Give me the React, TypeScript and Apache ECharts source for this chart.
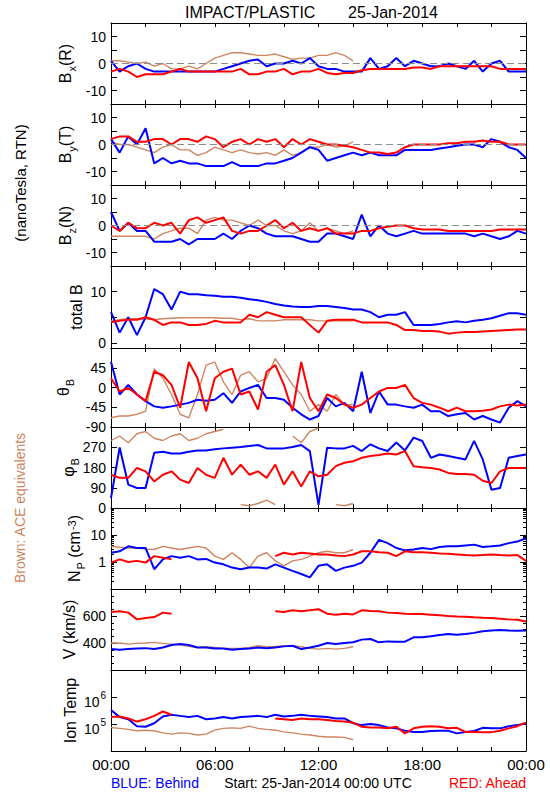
import React, { useEffect, useRef } from 'react';
import * as echarts from 'echarts';

const FONT = '"Liberation Sans", Arial, Helvetica, sans-serif';
const BLUE = '#0000ff';
const RED = '#ff0000';
const BROWN = '#cd8562';
const GRAY = '#8c8c8c';

// sample times, hours after 25-Jan-2014 00:00 UTC (every 30 min)
const HOURS = Array.from({ length: 49 }, (_, i) => i * 0.5);
const TIME_TICK_LABELS = ['00:00', '06:00', '12:00', '18:00', '00:00'];

// ---- Bx (R), nT
const BX_BLUE = [1, -3, -1, 0, -2, -3, -3, -3, -3, -3, -3, -3, -3, -2, -1, 0, 1, 1.5, -1, 0, 0, 1, 0, 2, -1, -2, -2, -3, -3, -3, 2, -2, -1, 2, -1, 1, 0, -1, -1, 0, -1, -2, 1, -3, 0, 1, -3, -3, -3];
const BX_RED = [-3, -2, -3, -5, -4, -4, -4, -3, -2, -3, -3, -3, -3, -3, -3, -2, -4, -4, -3, -3, -2, -4, -3, -3, -2, -3.5, -4, -3.5, -3.5, -2.5, -2, -2, -2, -2, -2, -1.5, -1.5, -2, -1, -1, -1, -1, -1, -1, -1, -2, -2, -2, -2];
const BX_BROWN = [1, 1, 0.5, 0, 0.5, -1, 0, -2, -2, -1, -2, 0, 2, 3, 4, 4, 3.5, 3, 3, 3.5, 2.5, 1.5, 2, 2, 3, 3, 4, 3, 1, null, null, null, null, null, null, null, null, null, null, null, null, null, null, null, null, null, null, null, null];

// ---- By (T), nT
const BY_BLUE = [2, -3, 3, 0, 6, -7, -5, -7, -6, -7, -7, -8, -8, -8, -6.5, -8, -8, -8, -7, -7, -6, -5, -3, -1, -2, -6, -5, -4, -3, -4, -3, -4, -4, -4, -2, -2, -2, -2, -1.5, -1, -0.5, 0, 0, -1, 2, 1, -1, -2, -5];
const BY_RED = [2, 3, 3, 1, 1, 2, 2, 0, 2, 2, 1, 3, 2, -1, 1, 2, 0, 2, 1, 2, -1, 2, 0, 2, 1, 0, 0, -0.5, -1, -2, -3, -3, -3.5, -3, -1, 0, 0, 0, 0, 0.5, 0.5, 1, 1, 1.5, 1, 1, 0, 0, 0];
const BY_BROWN = [1, 0, 0, -1, -2, -3, -1, 0, -2, -2, -4, -3, -1, -2, -3, -2, -3, -3.5, -3, -4, -2, -4, -3, -1, -1, 0, -1, -0.5, 1, null, null, null, null, null, null, null, null, null, null, null, null, null, null, null, null, null, null, null, null];

// ---- Bz (N), nT
const BZ_BLUE = [5, -2, 1, -2, -2, -6, -6, -6, -5, -7, -5, -5, -5, -3, -5, -2, 0, -1, -3, -4, -4, -4, -5, -6, -6, -3, -3, -4, -5, 4, -4, 0, -3, -4, -3, -2, -3, -3, -3, -3, -3, -3, -4, -3, -4, -5, -4, -2, -3];
const BZ_RED = [0, -2, 1, -1, -1, 1, 0, 1, -3, 2, 3, 1, 2, 3, -2, -3, -2, -2, 0, 2, -1, 1, -2, -1, -2, -1, -3, -3, -3, -2, -2, -1, -0.5, 0, 0, -1, -1.5, -1.5, -1.5, -2, -2, -2, -2, -2, -2, -1.5, -1.5, -1.5, -1.5];
const BZ_BROWN = [-4, -4, -4, -4, -4, -5, -3, -2, -1, -1, -3, 2, 3, 2, 2, 1, 0, 2, 0, 0, -2, -3, -2, 1, -2, -1, -2, -3, -2, null, null, null, null, null, null, null, null, null, null, null, null, null, null, null, null, null, null, null, null];

// ---- total B, nT
const BT_BLUE = [6, 2, 5, 1.5, 5, 10.5, 9.5, 6.5, 10, 9.5, 9.5, 9.3, 9.2, 9, 9, 8.8, 8.5, 8.3, 8, 7.6, 7.3, 7.1, 7, 7, 7.2, 7.2, 7, 6.8, 6.5, 6.5, 6, 5, 5.5, 5.5, 6, 3.5, 3.5, 3.5, 3.7, 4, 4.2, 4, 4.3, 4.5, 4.8, 5.3, 5.8, 5.8, 5.5];
const BT_RED = [4, 4.3, 4.5, 4.5, 5, 4.5, 3.5, 4, 4, 3.5, 3.5, 3.7, 4.3, 4, 4, 4, 5.5, 5, 6, 5.5, 5, 5, 5, 3.5, 2, 4.3, 4.5, 4.5, 4.5, 4, 4, 4, 4, 3.5, 2.5, 2.5, 2.3, 2.3, 2.2, 1.8, 2, 2.1, 2.1, 2.2, 2.3, 2.4, 2.5, 2.6, 2.6];
const BT_BROWN = [4.3, 4.5, 4.7, 4.7, 4.7, 4.5, 4.7, 4.8, 4.9, 4.9, 4.9, 4.9, 4.9, 4.8, 4.8, 4.5, 4.7, 4.3, 4.3, 4.3, 4.5, 4.5, 4.5, 4.5, 4.3, 4.3, 4.3, 4.3, 4.3, null, null, null, null, null, null, null, null, null, null, null, null, null, null, null, null, null, null, null, null];

// ---- theta B, degrees
const TH_BLUE = [58, -16, 6, -16, -31, -43, -46, -43, -39, -35, -28, -30, -28, -13, -35, -9, -1, 6, -24, -24, -28, -46, -61, -73, -65, -24, -43, -35, -54, 36, -58, -9, -39, -39, -43, -46, -39, -54, -54, -65, -61, -58, -73, -65, -73, -80, -46, -31, -43];
const TH_RED = [21, -9, -1, -16, -31, 36, 28, 6, -46, 58, 21, -54, 21, 36, 43, -16, -9, -50, 36, 51, 6, -54, 58, -24, -54, -16, -24, -39, -46, -39, -24, -9, -1, -1, 6, -24, -35, -39, -46, -54, -46, -54, -54, -53, -50, -43, -39, -41, -39];
const TH_BROWN = [-69, -65, -65, -61, -54, 43, 21, -16, -61, -69, -16, 51, 58, 13, -16, 28, 36, 13, 21, 66, 36, 6, -16, -54, -39, -54, -16, -39, -39, null, null, null, null, null, null, null, null, null, null, null, null, null, null, null, null, null, null, null, null];

// ---- phi B, degrees
const PH_BLUE = [44, 269, 104, 89, 89, 246, 250, 242, 242, 250, 256, 256, 261, 265, 268, 271, 276, 280, 265, 265, 265, 271, 280, 253, 13, 268, 265, 265, 276, 253, 283, 265, 253, 291, 256, 313, 298, 223, 238, 231, 223, 216, 298, 216, 81, 89, 223, 231, 238];
const PH_RED = [148, 134, 134, 178, 163, 118, 148, 163, 126, 111, 178, 148, 134, 223, 148, 193, 148, 163, 134, 193, 104, 163, 96, 163, 141, 148, 186, 201, 208, 223, 231, 236, 242, 238, 253, 186, 181, 178, 171, 156, 151, 151, 148, 121, 111, 163, 178, 178, 178];
const PH_BROWN = [300, 320, 290, 330, 340, 310, 300, 320, 330, 300, 310, 330, 340, 350, null, 15, 10, 20, 35, 15, null, 320, 290, 340, 355, null, 15, 10, 20, null, null, null, null, null, null, null, null, null, null, null, null, null, null, null, null, null, null, null, null];

// ---- proton density, cm^-3
const NP_BLUE = [2.2, 2.5, 3.8, 3.3, 3.3, 0.54, 1.25, 1.65, 1.45, 1.65, 1.25, 1.3, 0.95, 0.82, 0.62, 0.54, 0.62, 0.62, 0.57, 0.82, 0.62, 0.47, 0.36, 0.27, 0.72, 0.82, 0.47, 0.62, 0.72, 0.95, 2.2, 6.6, 5, 3.3, 2.7, 2.9, 3.3, 3, 3.6, 3.8, 3.8, 4.1, 4.4, 3.6, 3.8, 4.1, 5, 5.7, 7.6];
const NP_RED = [0.95, 1.25, 1.0, 1.1, 0.95, 1.65, 1.45, 1.25, null, null, null, null, null, null, null, null, null, null, null, 1.65, 2.2, 1.9, 2.2, 2.05, 1.9, 1.9, 1.75, 1.65, 1.9, 2.5, 2.5, 2.3, 2.2, 1.65, 2.5, 2.3, 2.3, 2.2, 2.05, 2.0, 1.9, 1.8, 1.75, 1.8, 1.9, 1.8, 1.75, 1.8, 1.1];
const NP_BROWN = [3.8, 3.5, 3.3, 3.3, 3, 2.9, 3.8, 3.3, 2.9, 3.3, 3.8, 3.3, 1.65, 1.25, 2.2, 1.25, 0.62, 1.65, 2.2, 1.1, 0.72, 1.1, 1.25, 1.65, 2.2, 2.5, 2.2, 2.2, 2.9, null, null, null, null, null, null, null, null, null, null, null, null, null, null, null, null, null, null, null, null];

// ---- bulk speed, km/s
const V_BLUE = [355, 350, 355, 360, 362, 355, 367, 385, 392, 385, 367, 367, 360, 360, 350, 355, 360, 367, 362, 367, 375, 380, 355, 367, 380, 400, 392, 400, 405, 425, 430, 405, 412, 410, 410, 442, 442, 450, 460, 467, 462, 467, 475, 487, 492, 497, 492, 490, 492];
const V_RED = [630, 635, 625, 575, 585, 592, 625, 617, null, null, null, null, null, null, null, null, null, null, null, 635, 630, 642, 635, 642, 650, 617, 610, 617, 612, 642, 637, 635, 625, 622, 617, 615, 615, 610, 605, 600, 597, 595, 590, 587, 585, 580, 575, 572, 560];
const V_BROWN = [400, 400, 392, 397, 400, 405, 397, 392, 385, 375, 367, 372, 367, 360, 360, 360, 367, 380, 372, 375, 380, 380, 372, 360, 355, 360, 355, 360, 372, null, null, null, null, null, null, null, null, null, null, null, null, null, null, null, null, null, null, null, null];

// ---- ion temperature, K
const T_BLUE = [3.3e5, 1.8e5, 1.5e5, 8.3e4, 7.9e4, 1.07e5, 1.9e5, 2.2e5, 2.0e5, 1.8e5, 2.0e5, 1.5e5, 1.6e5, 1.8e5, 1.6e5, 1.8e5, 1.9e5, 2.0e5, 1.8e5, 2.2e5, 1.9e5, 2.0e5, 2.2e5, 2.0e5, 1.9e5, 1.8e5, 1.6e5, 1.6e5, 1.07e5, 9.1e4, 1.0e5, 9.1e4, 7.4e4, 6.9e4, 5.6e4, 5.1e4, 5.1e4, 5.5e4, 5.6e4, 5.6e4, 4.5e4, 5.1e4, 5.5e4, 7.2e4, 6.9e4, 6.9e4, 8.3e4, 9.1e4, 1.07e5];
const T_RED = [1.8e5, 1.9e5, 1.6e5, 1.23e5, 1.5e5, 2.0e5, 2.9e5, 2.2e5, null, null, null, null, null, null, null, null, null, null, null, 1.6e5, 1.5e5, 1.4e5, 1.6e5, 1.5e5, 1.5e5, 1.4e5, 1.3e5, 1.23e5, 1.12e5, 7.9e4, 7.4e4, 7.4e4, 6.9e4, 7.9e4, 4.5e4, 6.9e4, 7.9e4, 8.3e4, 7.9e4, 6.9e4, 7.2e4, 5.1e4, 5.1e4, 4.9e4, 5.0e4, 5.6e4, 6.9e4, 8.3e4, 1.12e5];
const T_BROWN = [7.4e4, 6.9e4, 6.3e4, 5.6e4, 5.9e4, 5.6e4, 4.7e4, 4.2e4, 4.7e4, 4.5e4, 3.9e4, 4.2e4, 5.9e4, 6.9e4, 7.2e4, 6.9e4, 8.3e4, 6.9e4, 6.3e4, 5.9e4, 5.1e4, 4.7e4, 4.2e4, 3.9e4, 3.5e4, 3.3e4, 3.3e4, 3.2e4, 2.6e4, null, null, null, null, null, null, null, null, null, null, null, null, null, null, null, null, null, null, null, null];

// ---- layout
const PANEL_TOPS = [23, 104, 185, 266, 348, 427, 508, 589, 670];
const PANEL_BOTTOM = 751;
const PLOT_LEFT = 111;
const PLOT_WIDTH = 415;

type Panel = {
  label: string;
  labelX: number;
  series: (number | null)[][];
  axis: any;
  labels: number[];
  ticks?: number[];
  zero?: boolean;
  minorSplit?: number;
  logMinor?: boolean;
  sup?: boolean;
};

const PANELS: Panel[] = [
  { label: '{n|B}{s|x}{n|(R)}', labelX: 66, series: [BX_BROWN, BX_BLUE, BX_RED], axis: { type: 'value', min: -15, max: 15, interval: 5 }, labels: [-10, 0, 10], zero: true },
  { label: '{n|B}{s|y}{n|(T)}', labelX: 66, series: [BY_BROWN, BY_BLUE, BY_RED], axis: { type: 'value', min: -15, max: 15, interval: 5 }, labels: [-10, 0, 10], zero: true },
  { label: '{n|B}{s|z}{n|(N)}', labelX: 66, series: [BZ_BROWN, BZ_BLUE, BZ_RED], axis: { type: 'value', min: -15, max: 15, interval: 5 }, labels: [-10, 0, 10], zero: true },
  { label: '{n|total B}', labelX: 77, series: [BT_BROWN, BT_BLUE, BT_RED], axis: { type: 'value', min: -1, max: 15 }, labels: [0, 10], ticks: [0, 5, 10, 15] },
  { label: '{n|θ}{s|B}', labelX: 64, series: [TH_BROWN, TH_BLUE, TH_RED], axis: { type: 'value', min: -90, max: 90, interval: 45 }, labels: [-90, -45, 0, 45] },
  { label: '{n|φ}{s|B}', labelX: 69, series: [PH_BROWN, PH_BLUE, PH_RED], axis: { type: 'value', min: 0, max: 360, interval: 90 }, labels: [0, 90, 180, 270] },
  { label: '{n|N}{s|P}{n| (cm}{p|-3}{n|)}', labelX: 75, series: [NP_BROWN, NP_BLUE, NP_RED], axis: { type: 'log', logBase: 10, min: 0.1, max: 100 }, labels: [1, 10], logMinor: true },
  { label: '{n|V (km/s)}', labelX: 70, series: [V_BROWN, V_BLUE, V_RED], axis: { type: 'value', min: 200, max: 800, interval: 200 }, labels: [400, 600], minorSplit: 4 },
  { label: '{n|Ion Temp}', labelX: 71, series: [T_BROWN, T_BLUE, T_RED], axis: { type: 'log', logBase: 10, min: 1e4, max: 1e7 }, labels: [1e5, 1e6], sup: true },
];

const SERIES_COLORS = [BROWN, BLUE, RED];
const SERIES_WIDTHS = [1.4, 2, 2];

const LOG_MINOR: number[] = [];
for (let d = -1; d < 2; d++) {
  for (let k = 2; k <= 9; k++) LOG_MINOR.push(Math.log10(k) + d);
}

const NAME_RICH = {
  n: { fontSize: 16, lineHeight: 18, fontFamily: FONT, verticalAlign: 'top' },
  s: { fontSize: 11, lineHeight: 11, fontFamily: FONT, verticalAlign: 'top', padding: [9, 0, 0, 1] },
  p: { fontSize: 11, lineHeight: 11, fontFamily: FONT, verticalAlign: 'top', padding: [0, 0, 0, 1] },
};

const TICK_RICH = {
  b: { fontSize: 14, lineHeight: 14, fontFamily: FONT, color: '#000', verticalAlign: 'top', padding: [5, 0, 0, 0] },
  p: { fontSize: 10, lineHeight: 10, fontFamily: FONT, color: '#000', verticalAlign: 'top', padding: [0, 0, 0, 1] },
};

function buildOption() {
  const grids: any[] = [];
  const xAxes: any[] = [];
  const yAxes: any[] = [];
  const series: any[] = [];
  const graphics: any[] = [];

  PANELS.forEach((p, i) => {
    const top = PANEL_TOPS[i];
    const bottom = i + 1 < PANEL_TOPS.length ? PANEL_TOPS[i + 1] : PANEL_BOTTOM;
    grids.push({ left: PLOT_LEFT, width: PLOT_WIDTH, top, height: bottom - top, containLabel: false });

    const isLast = i === PANELS.length - 1;
    const xBase = {
      type: 'value', gridIndex: i, min: 0, max: 24, interval: 2,
      axisLine: { show: true, onZero: false, lineStyle: { color: '#000', width: 1 } },
      axisTick: { show: true, inside: true, length: 4, lineStyle: { color: '#000', width: 1 } },
      splitLine: { show: false },
    };
    const xBottomIndex = xAxes.length;
    xAxes.push({
      ...xBase, position: 'bottom',
      axisLabel: isLast ? {
        show: true, color: '#000', fontSize: 15, fontFamily: FONT, margin: 6,
        showMinLabel: true, showMaxLabel: true, hideOverlap: false,
        formatter: (v: number) => (Math.abs(v % 6) < 1e-9 ? TIME_TICK_LABELS[Math.round(v / 6)] : ''),
      } : { show: false },
    });
    xAxes.push({ ...xBase, position: 'top', axisLabel: { show: false } });

    const fmt = (v: number) => {
      const hit = p.labels.find((l) => Math.abs(l - v) <= Math.abs(l) * 1e-6 + 1e-9);
      if (hit === undefined) return '';
      if (p.sup) return `{b|10}{p|${Math.round(Math.log10(hit))}}`;
      return String(hit);
    };
    const yBase: any = {
      ...p.axis, gridIndex: i,
      axisLine: { show: true, onZero: false, lineStyle: { color: '#000', width: 1 } },
      axisTick: { show: true, inside: true, length: 6, lineStyle: { color: '#000', width: 1 }, ...(p.ticks ? { customValues: p.ticks } : {}) },
      minorTick: p.minorSplit ? { show: true, splitNumber: p.minorSplit, length: 3, lineStyle: { color: '#000', width: 1 } } : { show: false },
      splitLine: { show: false },
      minorSplitLine: { show: false },
    };
    const yMainIndex = yAxes.length;
    yAxes.push({
      ...yBase, position: 'left',
      axisLabel: {
        show: true, color: '#000', fontSize: 14, fontFamily: FONT, margin: 5,
        showMinLabel: true, showMaxLabel: true, hideOverlap: false,
        formatter: fmt,
        ...(p.sup ? { rich: TICK_RICH } : {}),
        ...(p.ticks ? { customValues: p.labels } : {}),
      },
    });
    yAxes.push({ ...yBase, position: 'right', axisLabel: { show: false } });
    if (p.logMinor) {
      ['left', 'right'].forEach((pos) => {
        yAxes.push({
          type: 'value', gridIndex: i, min: -1, max: 2, position: pos,
          axisLine: { show: false, onZero: false },
          axisLabel: { show: false },
          splitLine: { show: false },
          axisTick: { show: true, inside: true, length: 3, lineStyle: { color: '#000', width: 1 }, customValues: LOG_MINOR },
        });
      });
    }

    p.series.forEach((arr, k) => {
      const s: any = {
        type: 'line',
        xAxisIndex: xBottomIndex,
        yAxisIndex: yMainIndex,
        data: arr.map((v, j) => [HOURS[j], v]),
        showSymbol: false,
        symbol: 'none',
        connectNulls: false,
        silent: true,
        lineStyle: { color: SERIES_COLORS[k], width: SERIES_WIDTHS[k] },
        itemStyle: { color: SERIES_COLORS[k] },
        z: 2 + k,
      };
      if (k === 0 && p.zero) {
        s.markLine = {
          silent: true, symbol: 'none', label: { show: false },
          lineStyle: { color: GRAY, type: [7, 4], width: 1.2 },
          data: [{ yAxis: 0 }],
        };
      }
      series.push(s);
    });

    graphics.push({
      type: 'text', x: p.labelX, y: (top + bottom) / 2, rotation: Math.PI / 2, silent: true,
      style: {
        text: p.label, rich: NAME_RICH, fill: '#000', fontFamily: FONT, fontSize: 16,
        textAlign: 'center', textVerticalAlign: 'middle', align: 'center', verticalAlign: 'middle',
      },
    });
  });

  const txt = (text: string, x: number, y: number, opts: any = {}) => ({
    type: 'text', x, y, silent: true, rotation: opts.rotation || 0,
    style: {
      text, fill: opts.fill || '#000', fontFamily: FONT, fontSize: opts.fontSize || 14,
      textAlign: opts.align || 'left', align: opts.align || 'left',
      textVerticalAlign: 'middle', verticalAlign: 'middle',
    },
  });

  graphics.push(txt('IMPACT/PLASTIC', 185, 12, { fontSize: 16 }));
  graphics.push(txt('25-Jan-2014', 393, 12, { fontSize: 16, align: 'center' }));
  graphics.push(txt('(nanoTesla, RTN)', 20, 183, { fontSize: 15, align: 'center', rotation: Math.PI / 2 }));
  graphics.push(txt('Brown: ACE equivalents', 20, 508, { fontSize: 14, align: 'center', rotation: Math.PI / 2, fill: BROWN }));
  graphics.push(txt('BLUE: Behind', 111, 783, { fontSize: 14, fill: BLUE }));
  graphics.push(txt('Start: 25-Jan-2014 00:00 UTC', 318, 783, { fontSize: 14, align: 'center' }));
  graphics.push(txt('RED: Ahead', 526, 783, { fontSize: 14, align: 'right', fill: RED }));

  return {
    animation: false,
    backgroundColor: '#ffffff',
    grid: grids,
    xAxis: xAxes,
    yAxis: yAxes,
    series,
    graphic: { elements: graphics },
  };
}

export default function App() {
  const ref = useRef<HTMLDivElement>(null);
  useEffect(() => {
    if (!ref.current) return;
    const chart = echarts.init(ref.current, undefined, { renderer: 'svg' });
    chart.setOption(buildOption() as any);
    return () => chart.dispose();
  }, []);
  return (
    <div
      ref={ref}
      style={{ position: 'absolute', left: 0, top: 0, width: 550, height: 800, background: '#fff' }}
    />
  );
}
